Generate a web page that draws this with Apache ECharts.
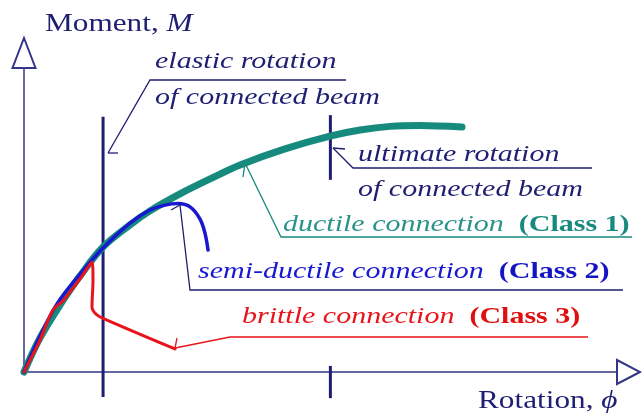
<!DOCTYPE html>
<html>
<head>
<meta charset="utf-8">
<script src="https://cdn.jsdelivr.net/npm/echarts@6/dist/echarts.min.js"></script>
<style>html,body{margin:0;padding:0;background:#fff;}#c{width:642px;height:417px;}</style>
</head>
<body>
<div id="c"></div>
<script>
// ---- data (schematic units: rotation 0..60, moment 0..100) ----
const ductileCurve = [[0,0],[1.62,11.2],[3.64,22.0],[5.67,31.6],[7.99,41.1],[10.73,48.4],[12.75,53.0],[15.78,58.6],[18.82,63.5],[21.86,68.1],[26.41,73.4],[30.96,77.6],[34.0,79.6],[37.03,80.8],[40.07,81.1],[44.32,80.6]];
const semiDuctileCurve = [[0,0],[0.61,4.6],[1.62,11.8],[3.34,22.4],[5.67,32.2],[7.99,40.8],[10.73,49.0],[12.75,53.3],[14.27,54.9],[15.58,55.4],[16.8,54.3],[17.81,50.3],[18.31,45.7],[18.62,40.1]];
const brittleCurve = [[0,0],[0.61,3.9],[1.62,10.5],[2.93,20.4],[3.95,23.4],[4.65,26.3],[5.67,30.6],[6.88,36.2],[6.98,30.3],[6.88,21.4],[7.38,18.8],[8.40,17.1],[15.28,7.6]];
const elasticRotation = 8;
const ultimateRotation = 31;
const axisNames = { y: 'Moment, ', yVar: 'M', x: 'Rotation, ', xVar: '\u03d5' };

// ---- styles / layout ----
const NAVY = '#1e1e72', AXIS = '#35358a', TEAL = '#178a7e', BLUE = '#1818d0', RED = '#e8141c';
const SX = 1.25;
const FAM = 'Liberation Serif';

const chart = echarts.init(document.getElementById('c'), null, { renderer: 'canvas' });

function txt(x, y, rich, text) {
  return { type: 'text', x: x, y: y, scaleX: SX, originX: 0, z: 100,
    style: { text: text, rich: rich, fontFamily: FAM, fontSize: 24, verticalAlign: 'middle', align: 'left' } };
}
function pl(points, color, w) {
  return { type: 'polyline', z: 90, shape: { points: points }, style: { stroke: color, lineWidth: w || 1.3, fill: null } };
}
const it = (c, s) => ({ fontFamily: FAM, fontStyle: 'italic', fontSize: s || 24, fill: c });
const bd = (c) => ({ fontFamily: FAM, fontWeight: 'bold', fontSize: 24, fill: c });
const rg = (c) => ({ fontFamily: FAM, fontSize: 25, fill: c });

const graphics = [
  txt(45, 24, { a: rg(NAVY), b: it(NAVY, 25) }, '{a|' + axisNames.y + '}{b|' + axisNames.yVar + '}'),
  txt(478, 401, { a: rg(NAVY), b: it(NAVY, 25) }, '{a|' + axisNames.x + '}{b|' + axisNames.xVar + '}'),
  txt(155, 62, { a: it(NAVY) }, '{a|elastic rotation}'),
  txt(155, 98, { a: it(NAVY) }, '{a|of connected beam}'),
  txt(358, 155, { a: it(NAVY) }, '{a|ultimate rotation}'),
  txt(358, 190, { a: it(NAVY) }, '{a|of connected beam}'),
  txt(283, 225, { a: it('#2a948a'), b: bd(TEAL) }, '{a|ductile connection }{b| (Class 1)}'),
  txt(198, 272, { a: it(BLUE), b: bd('#1414c4') }, '{a|semi-ductile connection }{b| (Class 2)}'),
  txt(242, 317, { a: it(RED), b: bd('#e01010') }, '{a|brittle connection }{b| (Class 3)}'),
  pl([[346,80],[150,80],[108,153]], NAVY),
  pl([[108,153],[118,153]], NAVY),
  pl([[592,168],[353,168],[333,148]], NAVY),
  pl([[333,148],[345,149]], NAVY),
  pl([[632,237],[281,237],[245,163]], TEAL),
  pl([[245,163],[243,177]], TEAL),
  pl([[623,290],[190,290],[180,205]], NAVY),
  pl([[180,205],[171,210]], NAVY),
  pl([[588,337],[230,337],[175,348]], RED),
  pl([[175,348],[177,338]], RED)
];

const markerLow = -8.2, markerHigh = 84, ultUpperLow = 63.2, ultUpperHigh = 84.5, ultLowerLow = -8.6, ultLowerHigh = 2;

function curve(data, color, width, z) {
  return { type: 'line', data: data, showSymbol: false, symbol: 'none', smooth: 0.35, clip: false, z: z,
    lineStyle: { color: color, width: width, cap: 'round', join: 'round' }, silent: true };
}
function seg(data, color, width) {
  return { type: 'line', data: data, showSymbol: false, symbol: 'none', clip: false, z: 3,
    lineStyle: { color: color, width: width }, silent: true };
}

chart.setOption({
  animation: false,
  backgroundColor: '#fff',
  grid: { left: 24, right: 25, top: 68, bottom: 45 },
  xAxis: { type: 'value', min: 0, max: 60, splitLine: { show: false }, axisTick: { show: false }, axisLabel: { show: false },
    axisLine: { show: true, lineStyle: { color: AXIS, width: 1.5 }, symbol: ['none', 'emptyTriangle'], symbolSize: [24, 23], symbolOffset: [0, 11.5] } },
  yAxis: { type: 'value', min: 0, max: 100, splitLine: { show: false }, axisTick: { show: false }, axisLabel: { show: false },
    axisLine: { show: true, lineStyle: { color: AXIS, width: 1.5 }, symbol: ['none', 'emptyTriangle'], symbolSize: [23, 30], symbolOffset: [0, 15] } },
  series: [
    seg([[elasticRotation, markerLow], [elasticRotation, markerHigh]], NAVY, 3),
    seg([[ultimateRotation, ultUpperLow], [ultimateRotation, ultUpperHigh]], NAVY, 3),
    seg([[ultimateRotation, ultLowerLow], [ultimateRotation, ultLowerHigh]], NAVY, 3),
    curve(ductileCurve, TEAL, 7, 4),
    curve(semiDuctileCurve, BLUE, 3.5, 5),
    curve(brittleCurve, RED, 3, 6)
  ],
  graphic: graphics
});
</script>
</body>
</html>
